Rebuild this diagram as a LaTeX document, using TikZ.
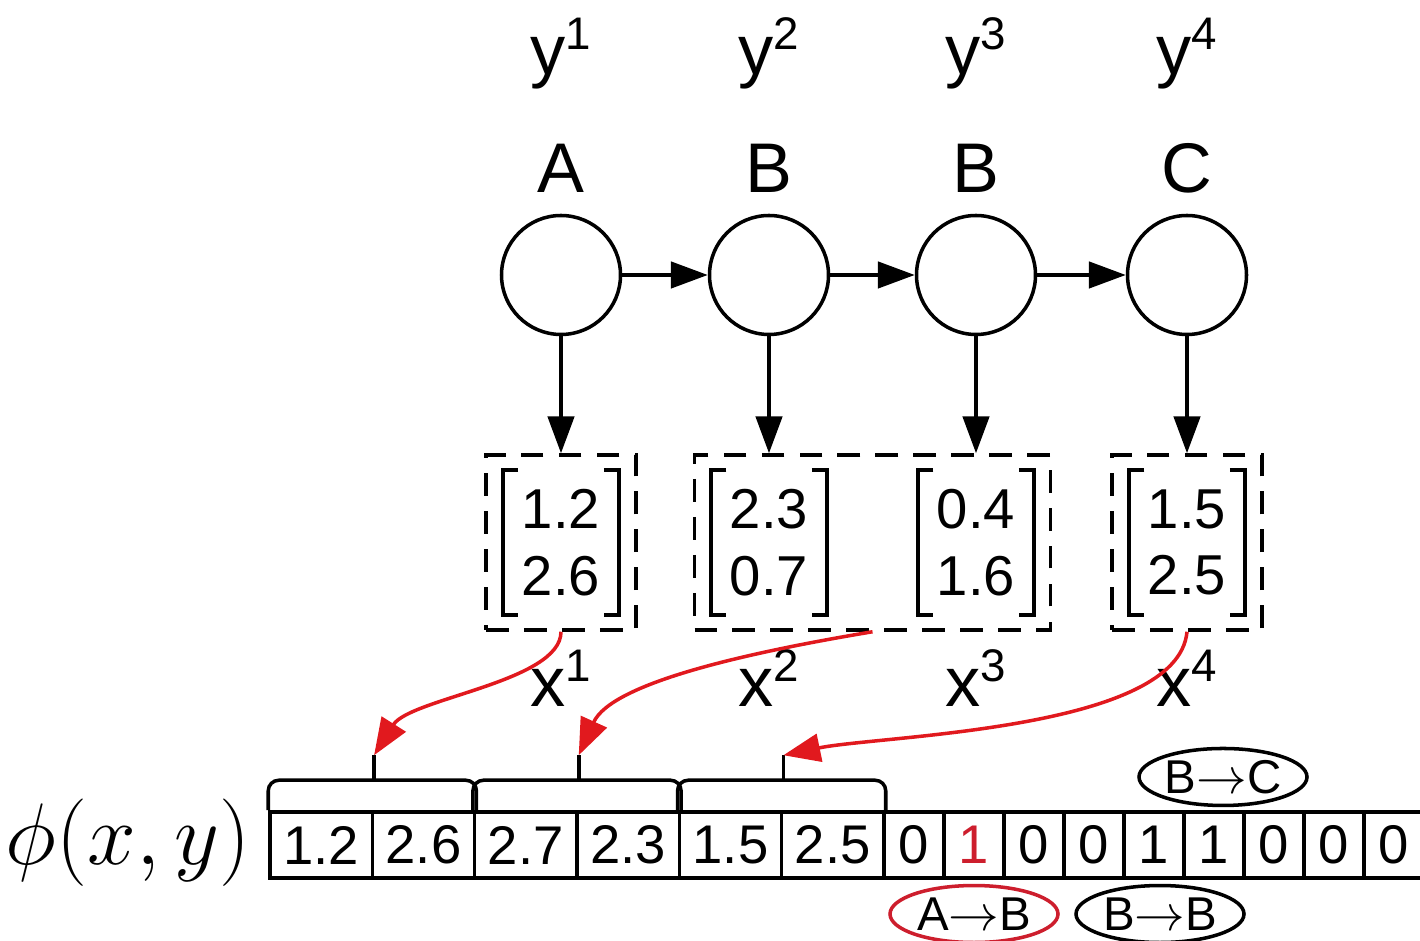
\documentclass[tikz,border=0pt]{standalone}
\usepackage{fontspec}
\setmainfont{Liberation Sans}
\usetikzlibrary{arrows.meta,positioning,shapes.geometric,calc}
\definecolor{hmmred}{RGB}{225,25,30}
\definecolor{featred}{RGB}{205,30,45}
\newcommand{\idx}[1]{\raisebox{0.36em}{\fontsize{13}{15}\selectfont #1}}

\begin{document}
\begin{tikzpicture}[
  line width=1pt,
  state/.style={draw, circle, minimum size=1.19cm, inner sep=0pt},
  lbl/.style={font=\fontsize{20}{24}\selectfont, anchor=base},
  obsbox/.style={draw, dash pattern=on 6.5pt off 4.3pt, minimum height=1.75cm, inner sep=0pt},
  vec/.style={minimum width=1.12cm, minimum height=1.41cm, inner sep=0pt, align=center, font=\fontsize{16}{19}\selectfont},
  cell/.style={draw, minimum height=0.66cm, inner sep=0pt, font=\fontsize{15.5}{18}\selectfont},
  trans/.style={draw, ellipse, minimum width=1.68cm, minimum height=0.57cm, inner sep=0pt, font=\fontsize{13.5}{16}\selectfont},
  arr/.style={-{Triangle[length=10.5pt, width=7.5pt]}},
  redarr/.style={-{Triangle[length=10.5pt, width=8pt]}, hmmred}
]
  \useasboundingbox (0,0) rectangle (14.2,9.41);

  %--- hidden states ---
  \foreach \t/\s/\x [count=\i] in {A/1/5.61, B/2/7.69, B/3/9.76, C/4/11.87} {
    \node[lbl] (ylab\i) at (\x,8.66) {y\idx{\s}};
    \node[lbl] (tag\i) at (\x,7.48) {\t};
    \node[state] (s\i) at (\x,6.66) {};
  }
  \draw[arr] (s1) -- (s2);
  \draw[arr] (s2) -- (s3);
  \draw[arr] (s3) -- (s4);

  %--- observations ---
  \node[vec] (v1) at (5.61,3.985) {1.2\\2.6};
  \node[vec] (v2) at (7.69,3.985) {2.3\\0.7};
  \node[vec] (v3) at (9.76,3.985) {0.4\\1.6};
  \node[vec] (v4) at (11.87,3.985) {1.5\\2.5};
  \foreach \v in {v1,v2,v3,v4} {
    \draw ($(\v.north west)+(0.15,0)$) -- (\v.north west) -- (\v.south west) -- ++(0.15,0);
    \draw ($(\v.north east)+(-0.15,0)$) -- (\v.north east) -- (\v.south east) -- ++(-0.15,0);
  }
  \node[obsbox, minimum width=1.5cm] (b1) at (v1) {};
  \node[obsbox, minimum width=3.56cm] (b2) at ($(v2)!0.5!(v3)$) {};
  \node[obsbox, minimum width=1.5cm] (b4) at (v4) {};

  \draw[arr] (s1) -- (b1);
  \draw[arr] (s2) -- (s2 |- b2.north);
  \draw[arr] (s3) -- (s3 |- b2.north);
  \draw[arr] (s4) -- (b4);

  \foreach \x [count=\i] in {5.61,7.69,9.76,11.87}
    \node[lbl] (xlab\i) at (\x,2.34) {x\idx{\i}};

  %--- feature vector ---
  \node[font=\fontsize{23.5}{28}\selectfont] (phi) at (1.28,0.98) {$\phi(x,y)$};
  \foreach \v [count=\i] in {1.2,2.6,2.7,2.3,1.5,2.5}
    \node[cell, minimum width=1.0233cm] (f\i) at ({2.70+(\i-0.5)*1.0233},0.96) {\v};
  \foreach \v/\c [count=\i from 7] in {0/black,1/featred,0/black,0/black,1/black,1/black,0/black,0/black,0/black}
    \node[cell, minimum width=0.60cm, text=\c] (f\i) at ({8.84+(\i-6.5)*0.60},0.96) {\v};

  % braces over the emission blocks
  \foreach \a/\b [count=\k] in {1/2,3/4,5/6} {
    \draw[rounded corners=3pt] (f\a.north west) -- ++(0,0.30) -| (f\b.north east);
    \coordinate (t\k) at ($(f\a.north east)+(0,0.55)$);
    \draw ($(f\a.north east)+(0,0.30)$) -- (t\k);
  }

  \draw[redarr] (b1.south) .. controls +(0,-0.50) and +(0.36,0.57) .. (t1);
  \draw[redarr] (b2.south) .. controls +(-1.20,-0.20) and +(0.33,0.73) .. (t2);
  \draw[redarr] (b4.south) .. controls +(-0.09,-0.99) and +(0.97,0.20) .. (t3);

  % transition indicators
  \node[trans, draw=featred, anchor=north, yshift=-0.04cm] (ab) at (f8.south) {A$\rightarrow$B};
  \node[trans, anchor=north, xshift=0.06cm, yshift=-0.04cm] (bb) at (f11.south) {B$\rightarrow$B};
  \node[trans, anchor=south, xshift=0.09cm, yshift=0.03cm] (bc) at (f12.north) {B$\rightarrow$C};
\end{tikzpicture}
\end{document}
